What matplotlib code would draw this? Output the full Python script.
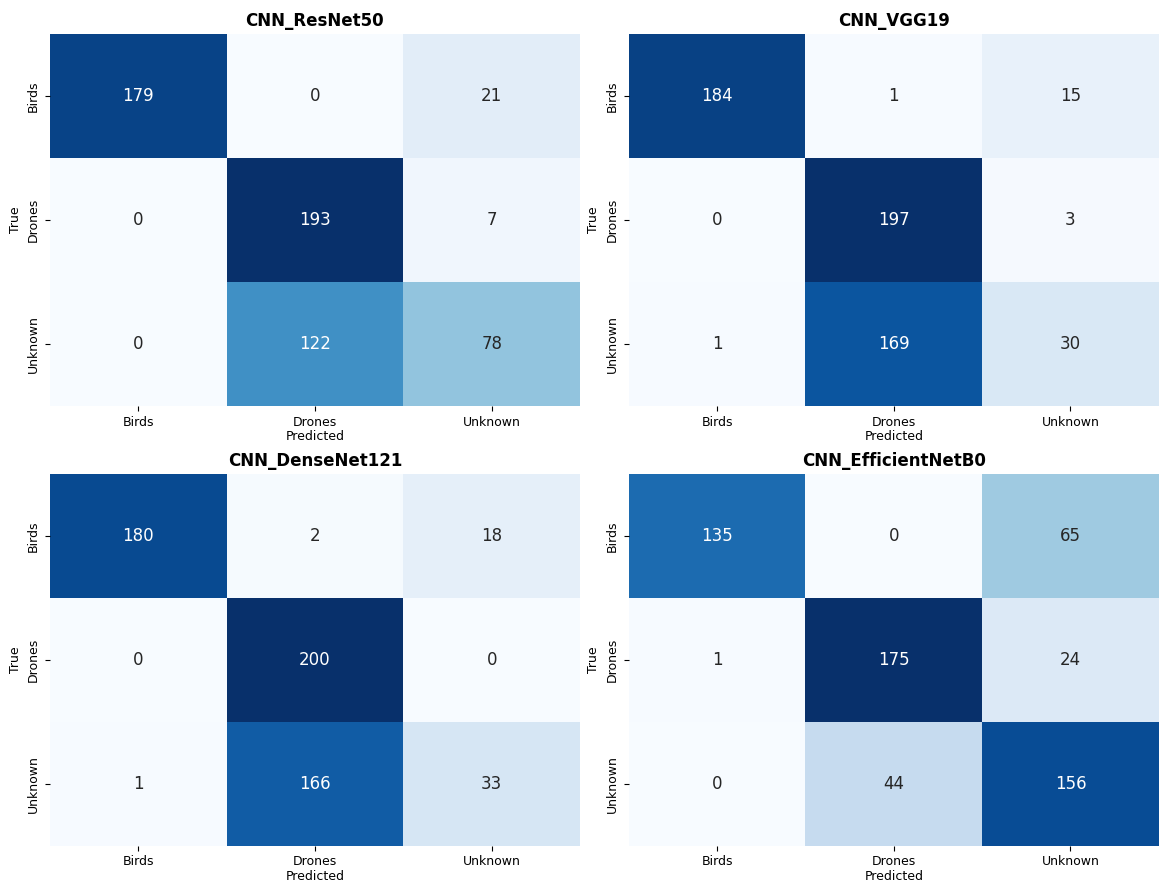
import matplotlib
matplotlib.use("Agg")
import matplotlib.pyplot as plt
import numpy as np
import seaborn as sns

# confusion matrices (rows = true, cols = predicted)
classes = ["Birds", "Drones", "Unknown"]
model_names = ["CNN_ResNet50", "CNN_VGG19", "CNN_DenseNet121", "CNN_EfficientNetB0"]
cm_resnet50 = [[179, 0, 21], [0, 193, 7], [0, 122, 78]]
cm_vgg19 = [[184, 1, 15], [0, 197, 3], [1, 169, 30]]
cm_densenet121 = [[180, 2, 18], [0, 200, 0], [1, 166, 33]]
cm_efficientnetb0 = [[135, 0, 65], [1, 175, 24], [0, 44, 156]]
matrices = [cm_resnet50, cm_vgg19, cm_densenet121, cm_efficientnetb0]

fig, axes = plt.subplots(2, 2, figsize=(11.6, 8.81), dpi=100)
plt.subplots_adjust(left=0.043, right=0.999, top=0.9614, bottom=0.040,
                    wspace=0.092, hspace=0.183)

for ax, name, cm in zip(axes.flat, model_names, matrices):
    sns.heatmap(np.array(cm), annot=True, fmt="d", cmap="Blues", cbar=False,
                xticklabels=classes, yticklabels=classes, ax=ax,
                annot_kws={"fontsize": 12})
    ax.set_title(name, fontsize=12, fontweight="bold")
    ax.set_xlabel("Predicted", fontsize=9, labelpad=1)
    ax.set_ylabel("True", fontsize=9)
    ax.tick_params(labelsize=9)

fig.savefig("out.png", dpi=100)
